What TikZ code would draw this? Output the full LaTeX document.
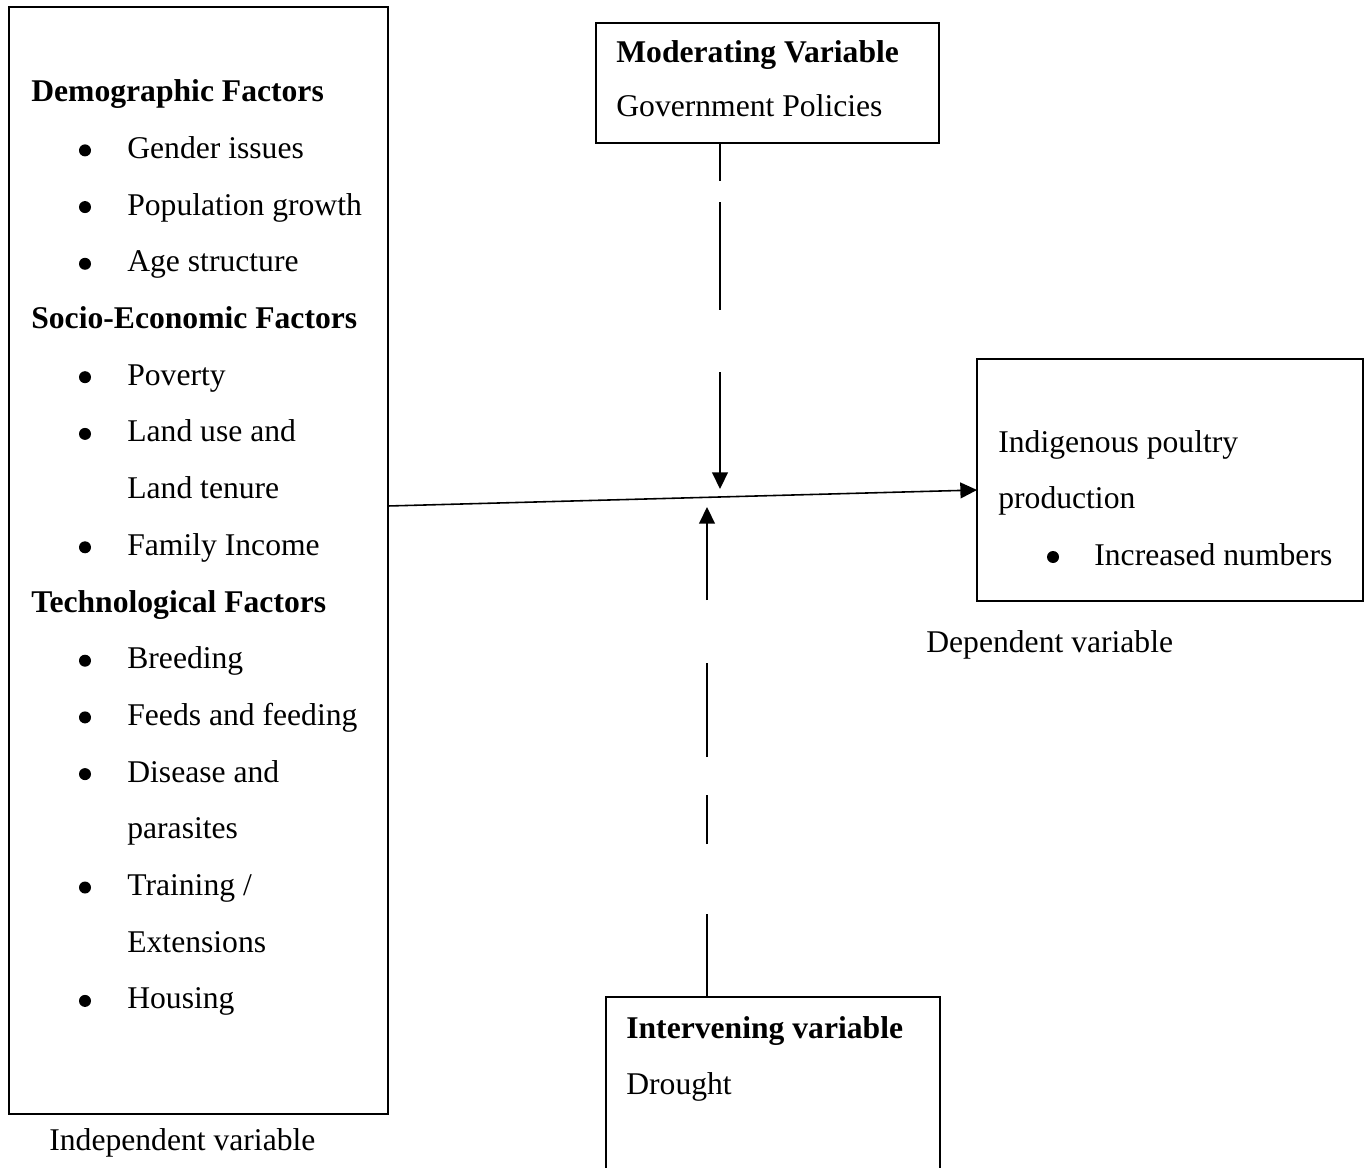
\documentclass[tikz,border=0pt]{standalone}
\usepackage{fontspec}
\setmainfont{Liberation Serif}
\usetikzlibrary{arrows.meta}

\tikzset{
  varbox/.style={draw, line width=1pt, inner sep=0pt, outer sep=0pt},
  txt/.style={anchor=base west, inner sep=0pt, font=\fontsize{18}{20}\selectfont},
  head/.style={txt, font=\fontsize{18}{20}\selectfont\bfseries},
  dot/.style={circle, fill, inner sep=0pt, minimum size=0.24cm},
  link/.style={line width=0.9pt, -{Triangle[length=9.5pt,width=9pt]}},
}

\begin{document}
\begin{tikzpicture}[x=0.02cm, y=-0.02cm]
    \clip (0,0) rectangle (1371,1168);
    \fill[white] (0,0) rectangle (1371,1168);

    % boxes
    \node[varbox, minimum width=7.58cm, minimum height=22.14cm] (indep) at (198.5,560.5) {};
    \node[varbox, minimum width=6.86cm, minimum height=2.4cm] (moder) at (767.5,83) {};
    \node[varbox, minimum width=7.72cm, minimum height=4.84cm] (dep) at (1170,480) {};
    \node[varbox, minimum width=6.68cm, minimum height=3.86cm] (interv) at (773,1093.5) {};

    % independent variables
    \node[head] (demo) at (31,101.7) {Demographic Factors};
    \node[txt] (gender) at (127,158.4) {Gender issues};
    \node[txt] (popn) at (127,215.1) {Population growth};
    \node[txt] (age) at (127,271.8) {Age structure};
    \node[head] (socio) at (31,328.5) {Socio-Economic Factors};
    \node[txt] (poverty) at (127,385.2) {Poverty};
    \node[txt] (landuse) at (127,441.9) {Land use and};
    \node[txt] (tenure) at (127,498.6) {Land tenure};
    \node[txt] (income) at (127,555.3) {Family Income};
    \node[head] (techno) at (31,612) {Technological Factors};
    \node[txt] (breeding) at (127,668.7) {Breeding};
    \node[txt] (feeds) at (127,725.4) {Feeds and feeding};
    \node[txt] (disease) at (127,782.1) {Disease and};
    \node[txt] (parasites) at (127,838.8) {parasites};
    \node[txt] (training) at (127,895.5) {Training /};
    \node[txt] (extension) at (127,952.2) {Extensions};
    \node[txt] (housing) at (127,1008.9) {Housing};
    \foreach \k/\y in {1/158.4,2/215.1,3/271.8,4/385.2,5/441.9,6/555.3,7/668.7,8/725.4,9/782.1,10/895.5,11/1008.9}
        \node[dot] (bul\k) at (85,\y-8) {};
    \node[txt] (indeplab) at (49,1150) {Independent variable};

    % moderating variable
    \node[head] (modhead) at (616,63) {Moderating Variable};
    \node[txt] (modtext) at (616,117) {Government Policies};

    % dependent variable
    \node[txt] (indig) at (998,453) {Indigenous poultry};
    \node[txt] (prod) at (998,508) {production};
    \node[dot] (bul12) at (1053,557) {};
    \node[txt] (numbers) at (1094,565) {Increased numbers};
    \node[txt] (deplab) at (926,652) {Dependent variable};

    % intervening variable
    \node[head] (inthead) at (626,1038) {Intervening variable};
    \node[txt] (inttext) at (626,1094) {Drought};

    % connectors
    \path (indep.east) ++(0,-54.5) coordinate (out);
    \path (dep.west) ++(0,10) coordinate (in);
    \path (moder.south) ++(-47.5,0) coordinate (modfoot);
    \coordinate (modtip) at (720,489);
    \path (interv.north) ++(-66,0) coordinate (intfoot);
    \coordinate (inttip) at (707,507);

    \draw[link] (out) -- (in);
    \draw[link, dash pattern=on 21.6pt off 12pt on 61.5pt off 35.3pt on 100pt] (modfoot) -- (modtip);
    \draw[link, dash pattern=on 47.2pt off 39.8pt on 27.9pt off 21.6pt on 53.5pt off 35.9pt on 100pt] (intfoot) -- (inttip);
\end{tikzpicture}
\end{document}
